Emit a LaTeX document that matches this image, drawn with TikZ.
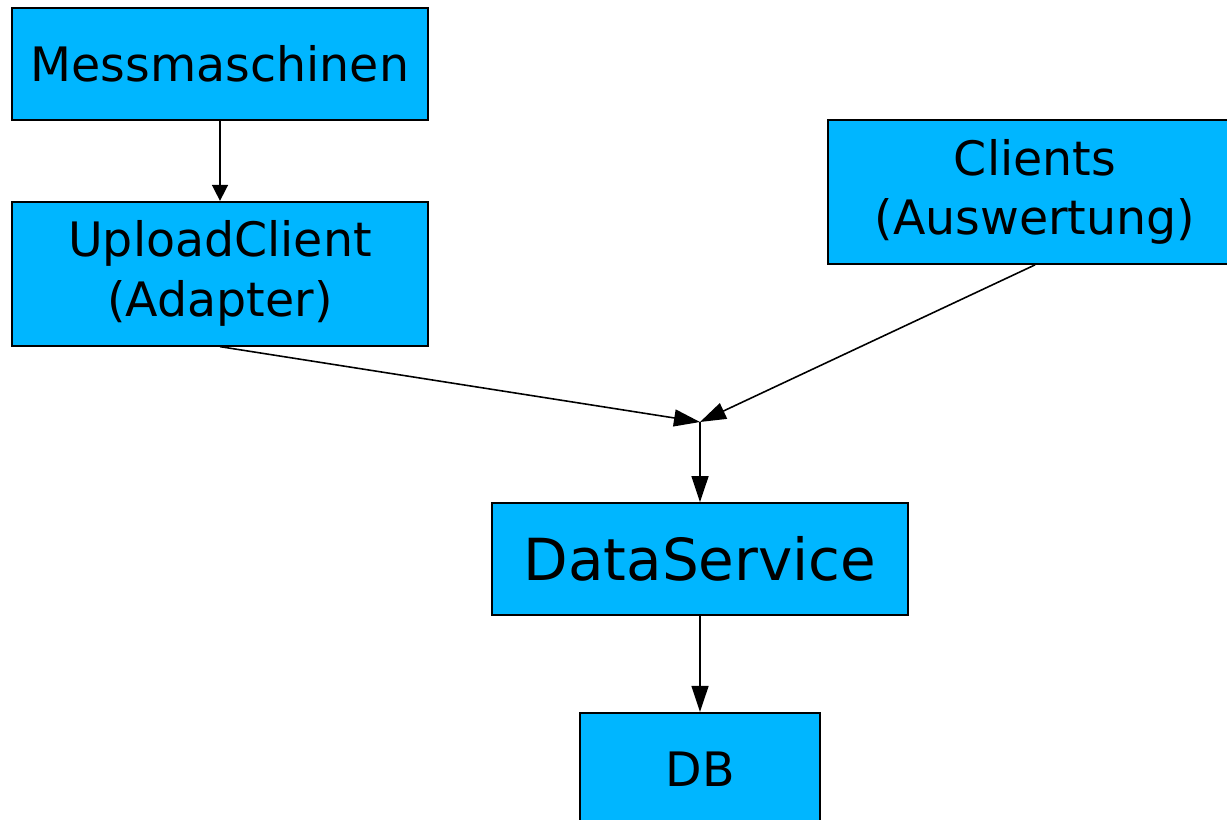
\documentclass[tikz,border=0pt]{standalone}
\usepackage{fontspec}
\setmainfont{DejaVu Sans}
\usetikzlibrary{positioning,arrows.meta}
\definecolor{boxblue}{RGB}{0,182,255}
\tikzset{
  comp/.style={rectangle, draw=black, fill=boxblue, line width=1pt, align=center, inner sep=0pt, minimum width=8.32cm, minimum height=2.24cm, font=\fontsize{27}{34}\selectfont},
  comptall/.style={comp, minimum height=2.88cm},
  compbig/.style={comp, font=\fontsize{33}{40}\selectfont},
  line/.style={draw, line width=0.9pt, -{Triangle[length=0.52cm,width=0.34cm]}},
  shortline/.style={line, -{Triangle[length=0.32cm,width=0.32cm]}},
}
\begin{document}
\begin{tikzpicture}
  \useasboundingbox (0,0) rectangle (24.54,-16.4);

  \node[comp] (mess) at (4.4,-1.28) {Messmaschinen};
  \node[comptall, below=1.6cm of mess] (upload) {UploadClient\\(Adapter)};
  \node[comptall, minimum width=8.28cm] (clients) at (20.7,-3.84) {Clients\\(Auswertung)};
  \node[compbig] (data) at (14,-11.18) {DataService};
  \node[comp, minimum width=4.8cm, below=1.92cm of data] (db) {DB};

  \coordinate (join) at (14,-8.44);

  \begin{scope}[every path/.style=line]
    \path (mess) edge[shortline] (upload);
    \path (upload.south) -- (join);
    \path (clients.south) -- (join);
    \path (join) -- (data);
    \path (data) -- (db);
  \end{scope}
\end{tikzpicture}
\end{document}
